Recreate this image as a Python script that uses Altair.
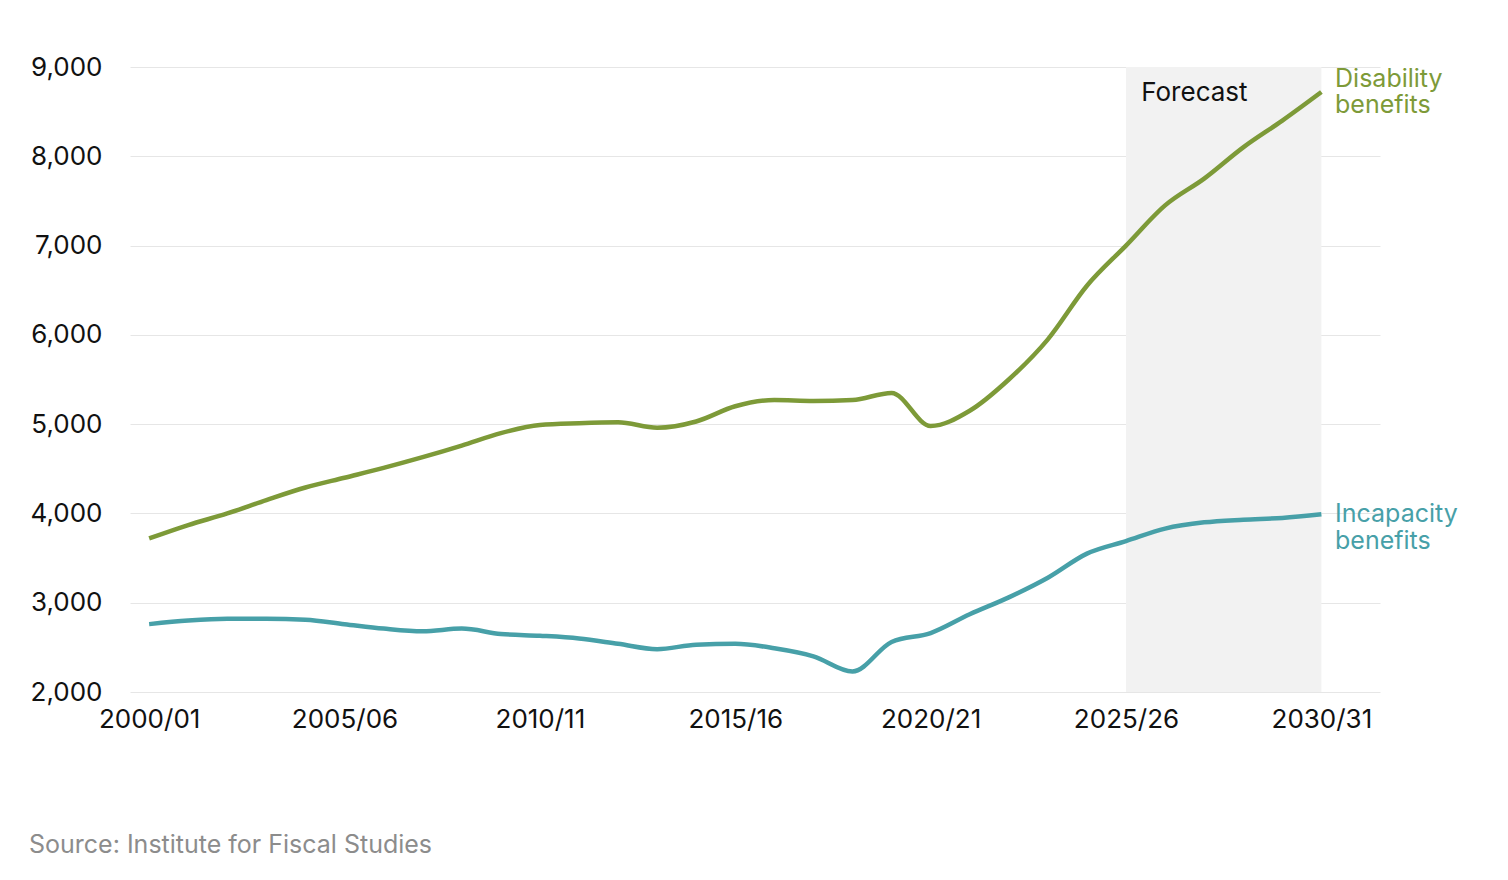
import altair as alt
import pandas as pd

years = list(range(2000, 2031))
disability = [3720, 3870, 4000, 4150, 4290, 4400, 4510, 4630, 4760, 4900, 4990,
              5010, 5020, 4960, 5030, 5200, 5270, 5260, 5270, 5350, 4980,
              5150, 5500, 5950, 6550, 7000, 7450, 7750, 8100, 8400, 8720]
incapacity = [2760, 2800, 2820, 2820, 2810, 2760, 2710, 2680, 2710, 2650, 2630,
              2600, 2540, 2480, 2530, 2540, 2490, 2400, 2230, 2560, 2660,
              2870, 3060, 3280, 3550, 3690, 3830, 3900, 3930, 3950, 3990]
tick_years = [2000, 2005, 2010, 2015, 2020, 2025, 2030]

GREEN = "#7d9a38"
TEAL = "#47a0a8"
FONT = "Inter"
SERIES = ["Disability benefits", "Incapacity benefits"]

rows = []
for y, d, i in zip(years, disability, incapacity):
    rows.append({"year": y, "series": SERIES[0], "value": d})
    rows.append({"year": y, "series": SERIES[1], "value": i})
df = pd.DataFrame(rows)

x_scale = alt.Scale(domain=[1999.51, 2031.5], nice=False, zero=False)
y_scale = alt.Scale(domain=[2000, 9000], nice=False, zero=False)
color_scale = alt.Scale(domain=SERIES, range=[GREEN, TEAL])

forecast = alt.Chart(pd.DataFrame({"x": [2025], "x2": [2030], "y": [2000], "y2": [9000]})).mark_rect(
    color="#f2f2f2").encode(
    x=alt.X("x:Q", scale=x_scale), x2="x2:Q",
    y=alt.Y("y:Q", scale=y_scale), y2="y2:Q")

forecast_label = alt.Chart(pd.DataFrame({"x": [2026.75], "y": [8710], "t": ["Forecast"]})).mark_text(
    font=FONT, fontSize=26, color="#111111").encode(
    x=alt.X("x:Q", scale=x_scale), y=alt.Y("y:Q", scale=y_scale), text="t:N")

lines = alt.Chart(df).mark_line(strokeWidth=4.5, interpolate="monotone").encode(
    x=alt.X("year:Q", scale=x_scale, title=None,
            axis=alt.Axis(values=tick_years, labelExpr="datum.value + '/' + substring(toString(datum.value + 1), 2, 4)",
                          grid=False, domain=False, ticks=False, labelFontSize=26,
                          labelColor="#111111", labelPadding=14, labelFont=FONT)),
    y=alt.Y("value:Q", scale=y_scale, title=None,
            axis=alt.Axis(values=list(range(2000, 10000, 1000)), format=",.0f", domain=False,
                          ticks=False, labelFontSize=26, labelColor="#111111",
                          labelPadding=28, gridColor="#e6e6e6", labelFont=FONT)),
    color=alt.Color("series:N", scale=color_scale, legend=None))

labels = pd.DataFrame({
    "x": [2030.35, 2030.35, 2030.35, 2030.35],
    "y": [8870, 8570, 3990, 3690],
    "t": ["Disability", "benefits", "Incapacity", "benefits"],
    "series": [SERIES[0], SERIES[0], SERIES[1], SERIES[1]],
})
end_labels = alt.Chart(labels).mark_text(font=FONT, fontSize=25, align="left").encode(
    x=alt.X("x:Q", scale=x_scale), y=alt.Y("y:Q", scale=y_scale), text="t:N",
    color=alt.Color("series:N", scale=color_scale, legend=None))

source = alt.Chart(pd.DataFrame({"t": ["Source: Institute for Fiscal Studies"]})).mark_text(
    font=FONT, fontSize=25, color="#8c8c8c", align="left").encode(
    x=alt.value(-101), y=alt.value(778), text="t:N")

chart = (forecast + forecast_label + lines + end_labels + source).properties(
    width=1250, height=625,
    autosize=alt.AutoSizeParams(type="none"),
    padding={"left": 122, "top": 59, "right": 120, "bottom": 190},
).configure_view(strokeWidth=0)

chart.save("out.html", embed_options={"renderer": "svg", "actions": False})
